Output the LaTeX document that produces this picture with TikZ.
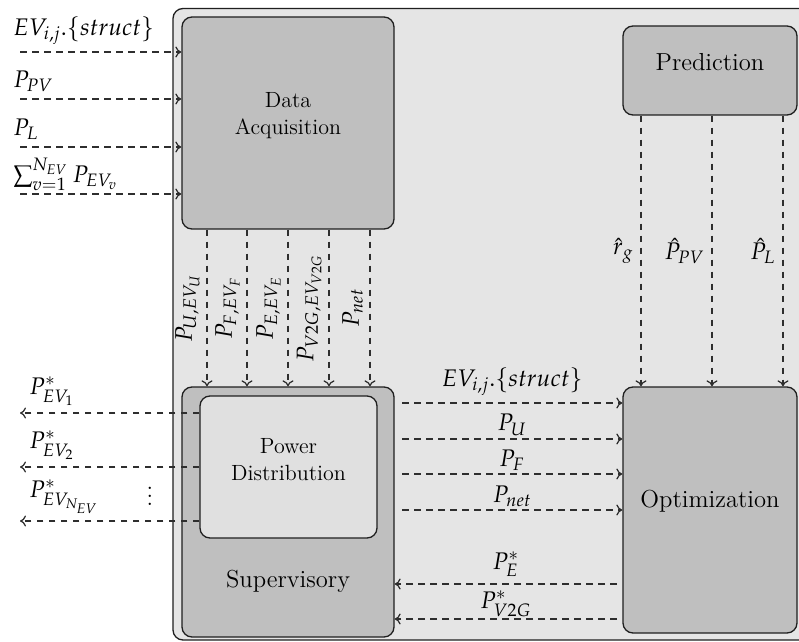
\documentclass[tikz,border=0pt]{standalone}
\usepackage{mathpazo}
\usetikzlibrary{fit,arrows.meta}
\definecolor{bgfill}{gray}{0.90}
\definecolor{boxfill}{gray}{0.75}
\definecolor{pdfill}{gray}{0.88}
\definecolor{edge}{gray}{0.12}
\definecolor{flowcol}{gray}{0.18}
\tikzset{
  outerbox/.style={draw=edge, line width=0.65pt, fill=bgfill, rounded corners=5pt},
  blockbox/.style={draw=edge, line width=0.65pt, fill=boxfill, rounded corners=5pt, inner sep=0pt, align=center},
  pdbox/.style={draw=edge, line width=0.65pt, fill=pdfill, rounded corners=5pt, inner sep=0pt, align=center},
  flow/.style={draw=flowcol, dash pattern=on 3.3pt off 2.7pt, line width=0.62pt, -{To[length=3pt, width=5.5pt]}},
  midtxt/.style={font=\fontsize{11}{13.5}\selectfont},
  bigtxt/.style={font=\fontsize{12.3}{15}\selectfont},
  lab/.style={font=\fontsize{12}{14}\selectfont},
}
\begin{document}
\begin{tikzpicture}[x=0.5pt,y=-0.5pt]
\useasboundingbox (0,0) rectangle (799,642);
\clip (0,0) rectangle (799,642);
% outer system box
\node[outerbox, inner sep=0pt, fit={(173,8.5) (815,640)}] (sys) {};
% blocks
\node[blockbox, midtxt, fit={(182,17) (394,229)}] (da) {Data\\Acquisition};
\node[blockbox, fit={(182,387) (394,637)}] (sup) {};
\node[bigtxt] (suptxt) at (288,581) {Supervisory};
\node[pdbox, midtxt, fit={(200,396) (377,538)}] (pd) {Power\\Distribution};
\node[blockbox, bigtxt, fit={(623,387) (797,633)}] (opt) {Optimization};
\node[blockbox, bigtxt, fit={(623,26) (797,115)}] (pred) {Prediction};
% inputs to data acquisition
\coordinate (i1) at (20,52);
\coordinate (i2) at (20,99);
\coordinate (i3) at (20,147);
\coordinate (i4) at (20,194);
\draw[flow] (i1) -- (i1 -| da.west) node[lab, pos=0, above right, xshift=-7pt] {$EV_{i,j}.\{struct\}$};
\draw[flow] (i2) -- (i2 -| da.west) node[lab, pos=0, above right, xshift=-7pt] {$P_{PV}$};
\draw[flow] (i3) -- (i3 -| da.west) node[lab, pos=0, above right, xshift=-7pt] {$P_{L}$};
\draw[flow] (i4) -- (i4 -| da.west) node[lab, pos=0, above right, xshift=-7pt, yshift=-2pt] {$\sum_{v=1}^{N_{EV}} P_{EV_v}$};
% data acquisition to supervisory
\coordinate (v1) at (207,300);
\coordinate (v2) at (247,300);
\coordinate (v3) at (288,300);
\coordinate (v4) at (329,300);
\coordinate (v5) at (370,300);
\draw[flow] (da.south -| v1) -- (sup.north -| v1) node[lab, midway, rotate=90, anchor=south] {$P_{U,EV_U}$};
\draw[flow] (da.south -| v2) -- (sup.north -| v2) node[lab, midway, rotate=90, anchor=south] {$P_{F,EV_F}$};
\draw[flow] (da.south -| v3) -- (sup.north -| v3) node[lab, midway, rotate=90, anchor=south] {$P_{E,EV_E}$};
\draw[flow] (da.south -| v4) -- (sup.north -| v4) node[lab, midway, rotate=90, anchor=south] {$P_{V2G,EV_{V2G}}$};
\draw[flow] (da.south -| v5) -- (sup.north -| v5) node[lab, midway, rotate=90, anchor=south] {$P_{net}$};
% prediction to optimization
\coordinate (p1) at (641,250);
\coordinate (p2) at (712,250);
\coordinate (p3) at (783,250);
\draw[flow] (pred.south -| p1) -- (opt.north -| p1) node[lab, midway, left] {$\hat{r}_g$};
\draw[flow] (pred.south -| p2) -- (opt.north -| p2) node[lab, midway, left] {$\hat{P}_{PV}$};
\draw[flow] (pred.south -| p3) -- (opt.north -| p3) node[lab, midway, left] {$\hat{P}_{L}$};
% supervisory to optimization
\coordinate (s1) at (402,403);
\coordinate (s2) at (402,439);
\coordinate (s3) at (402,474);
\coordinate (s4) at (402,510);
\draw[flow] (s1) -- (s1 -| opt.west) node[lab, midway, above] {$EV_{i,j}.\{struct\}$};
\draw[flow] (s2) -- (s2 -| opt.west) node[lab, midway, above, inner sep=1.5pt] {$P_{U}$};
\draw[flow] (s3) -- (s3 -| opt.west) node[lab, midway, above, inner sep=1.5pt] {$P_{F}$};
\draw[flow] (s4) -- (s4 -| opt.west) node[lab, midway, above, inner sep=1.5pt] {$P_{net}$};
% optimization to supervisory
\coordinate (r1) at (617,584);
\coordinate (r2) at (617,619);
\draw[flow] (r1) -- (r1 -| sup.east) node[lab, midway, above] {$P_{E}^{*}$};
\draw[flow] (r2) -- (r2 -| sup.east) node[lab, midway, above, inner sep=1pt] {$P_{V2G}^{*}$};
% power distribution outputs
\coordinate (o1) at (20,413);
\coordinate (o2) at (20,467);
\coordinate (o3) at (20,521);
\draw[flow] (o1 -| pd.west) -- (o1) node[lab, pos=1, above right, xshift=1pt] {$P_{EV_1}^{*}$};
\draw[flow] (o2 -| pd.west) -- (o2) node[lab, pos=1, above right, xshift=1pt] {$P_{EV_2}^{*}$};
\draw[flow] (o3 -| pd.west) -- (o3) node[lab, pos=1, above right, xshift=1pt] {$P_{EV_{N_{EV}}}^{*}$};
\node[lab] (dots) at (150,490) {$\vdots$};
\end{tikzpicture}
\end{document}
